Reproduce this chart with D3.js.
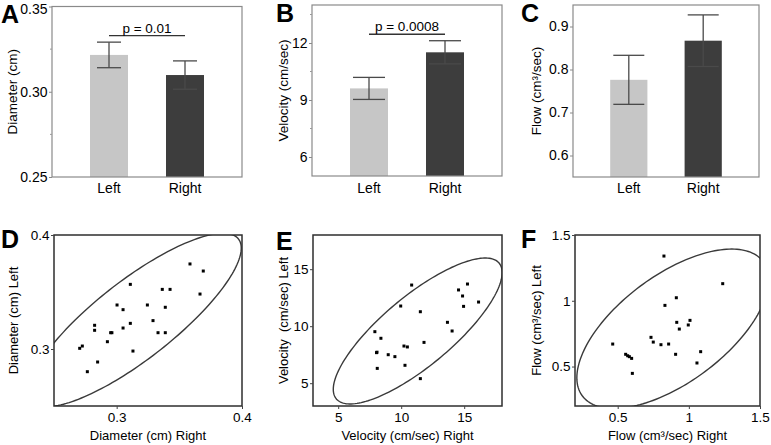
<!DOCTYPE html>
<html>
<head>
<meta charset="utf-8">
<script src="https://cdn.jsdelivr.net/npm/d3@7"></script>
<style>
  body { margin: 0; background: #fff; }
  svg text { font-family: "Liberation Sans", Arial, sans-serif; fill: #000; }
</style>
</head>
<body>
<svg id="chart" width="771" height="445"></svg>
<script>
//data
const groups = ["Left", "Right"];

const diameterMean = [0.3216, 0.3098];
const diameterErr = [0.0075, 0.0083];
const velocityMean = [9.61, 11.51];
const velocityErr = [0.58, 0.61];
const flowMean = [0.776, 0.867];
const flowErr = [0.057, 0.06];

//scatter pairs are [right, left]
const diameterPairs = [
  [0.2705, 0.3006], [0.2726, 0.3026], [0.2766, 0.2801], [0.2824, 0.3208],
  [0.2824, 0.3164], [0.2848, 0.2886], [0.2926, 0.3064], [0.2952, 0.3143],
  [0.2962, 0.3143], [0.3003, 0.3386], [0.3051, 0.3345], [0.3051, 0.3184],
  [0.3109, 0.3567], [0.3109, 0.3225], [0.313, 0.2982], [0.3245, 0.3386],
  [0.329, 0.3249], [0.333, 0.3143], [0.3364, 0.3523], [0.3388, 0.3366],
  [0.3388, 0.3143], [0.3426, 0.3523], [0.3585, 0.3746], [0.3691, 0.3684],
  [0.3665, 0.3482],
];
const velocityPairs = [
  [7.91, 9.52], [8.39, 8.94], [8.04, 7.68], [8.08, 7.72], [8.1, 6.3],
  [8.97, 7.5], [9.5, 7.33], [9.96, 11.77], [10.22, 8.26], [10.49, 8.18],
  [10.3, 6.57], [10.83, 13.61], [11.52, 11.27], [11.81, 8.58], [11.52, 5.4],
  [13.67, 10.34], [14.04, 9.58], [14.55, 13.18], [14.87, 12.65], [14.95, 11.74],
  [15.26, 13.7], [16.14, 12.12],
];
const flowPairs = [
  [0.825, 1.34], [1.238, 1.13], [0.912, 1.023], [0.832, 0.965], [0.915, 0.836],
  [1.008, 0.851], [0.996, 0.816], [0.933, 0.785], [0.465, 0.671], [0.734, 0.722],
  [0.75, 0.686], [0.804, 0.666], [0.858, 0.671], [0.907, 0.593], [1.083, 0.613],
  [1.057, 0.527], [0.556, 0.593], [0.57, 0.582], [0.582, 0.575], [0.598, 0.562],
  [0.603, 0.448],
];

//ellipses: centre, spread on each axis, correlation
const diameterEllipse = { cx: 0.3144, cy: 0.3254, sx: 0.085, sy: 0.0761, r: 0.829 };
const velocityEllipse = { cx: 11.31, cy: 9.58, sx: 6.7, sy: 6.4, r: 0.8 };
const flowEllipse = { cx: 0.887, cy: 0.787, sx: 0.674, sy: 0.606, r: 0.614 };

//layout
const barColors = ["#c6c6c6", "#3d3d3d"];

const barPanels = [
  { letter: "A", lx: 1, ly: 23, x: 52, y: 6.5, w: 190, h: 170.5, domain: [0.25, 0.35],
    ticks: [0.25, 0.3, 0.35], minor: [0.275, 0.325], fmt: ".2f", cap: 24,
    mean: diameterMean, err: diameterErr, p: "p = 0.01", title: "Diameter (cm)", tx: 12 },
  { letter: "B", lx: 276, ly: 22, x: 312, y: 5, w: 190, h: 171, domain: [5, 14],
    ticks: [6, 9, 12], minor: [7.5, 10.5, 13.5], fmt: "d", cap: 32,
    mean: velocityMean, err: velocityErr, p: "p = 0.0008", title: "Velocity (cm/sec)", tx: 283 },
  { letter: "C", lx: 521, ly: 22, x: 573, y: 5, w: 186, h: 172, domain: [0.55, 0.95],
    ticks: [0.6, 0.7, 0.8, 0.9], minor: [], fmt: ".1f", cap: 31,
    mean: flowMean, err: flowErr, p: null, title: "Flow (cm³/sec)", tx: 536 },
];

const scatterPanels = [
  { letter: "D", lx: 1, ly: 248, x: 54, y: 235, w: 188, h: 171,
    xDomain: [0.25, 0.4], yDomain: [0.25, 0.4], xTicks: [0.3, 0.4], yTicks: [0.3, 0.4],
    pairs: diameterPairs, ellipse: diameterEllipse,
    xTitle: "Diameter (cm) Right", yTitle: "Diameter (cm) Left", tx: 13 },
  { letter: "E", lx: 276, ly: 250, x: 313, y: 235, w: 189, h: 171,
    xDomain: [3, 18], yDomain: [3, 18], xTicks: [5, 10, 15], yTicks: [5, 10, 15],
    pairs: velocityPairs, ellipse: velocityEllipse,
    xTitle: "Velocity (cm/sec) Right", yTitle: "Velocity  (cm/sec) Left", tx: 283 },
  { letter: "F", lx: 521, ly: 248, x: 575, y: 235, w: 185, h: 171,
    xDomain: [0.2, 1.5], yDomain: [0.2, 1.5], xTicks: [0.5, 1, 1.5], yTicks: [0.5, 1, 1.5],
    pairs: flowPairs, ellipse: flowEllipse,
    xTitle: "Flow (cm³/sec) Right", yTitle: "Flow (cm³/sec) Left", tx: 536 },
];

const svg = d3.select("#chart");
const shortNum = d3.format("~g");

function styleAxis(g, size) {
  g.select(".domain").remove();
  g.selectAll(".tick line").attr("stroke", "#444");
  g.selectAll(".tick text").attr("font-size", size).attr("fill", "#000");
}

function barPanel(p) {
  const g = svg.append("g");
  const x = d3.scaleBand().domain(groups).range([p.x, p.x + p.w]).padding(0.5);
  const y = d3.scaleLinear().domain(p.domain).range([p.y + p.h, p.y]);

  g.selectAll(".bar")
    .data(groups)
    .join("rect")
    .attr("x", (d) => x(d))
    .attr("width", x.bandwidth())
    .attr("y", (d, i) => y(p.mean[i]))
    .attr("height", (d, i) => y(p.domain[0]) - y(p.mean[i]))
    .attr("fill", (d, i) => barColors[i]);

  //error bars
  const eb = g.selectAll(".err").data(groups).join("g").attr("stroke", "#4a4a4a").attr("stroke-width", 1.3);
  eb.append("line")
    .attr("x1", (d) => x(d) + x.bandwidth() / 2)
    .attr("x2", (d) => x(d) + x.bandwidth() / 2)
    .attr("y1", (d, i) => y(p.mean[i] - p.err[i]))
    .attr("y2", (d, i) => y(p.mean[i] + p.err[i]));
  [-1, 1].forEach((s) => {
    eb.append("line")
      .attr("x1", (d) => x(d) + x.bandwidth() / 2 - p.cap / 2)
      .attr("x2", (d) => x(d) + x.bandwidth() / 2 + p.cap / 2)
      .attr("y1", (d, i) => y(p.mean[i] + s * p.err[i]))
      .attr("y2", (d, i) => y(p.mean[i] + s * p.err[i]));
  });

  //frame
  g.append("rect")
    .attr("x", p.x).attr("y", p.y).attr("width", p.w).attr("height", p.h)
    .attr("fill", "none").attr("stroke", "#8a8a8a").attr("stroke-width", 1.2);

  const ax = g.append("g")
    .attr("transform", `translate(${p.x},0)`)
    .call(d3.axisLeft(y).tickValues(p.ticks).tickFormat(d3.format(p.fmt)).tickSize(3).tickPadding(1.5));
  styleAxis(ax, 14);
  ax.selectAll(".tick line").attr("stroke", "#8a8a8a");
  //keep a label sitting on the top edge inside the picture
  ax.selectAll(".tick text").filter((d) => y(d) - p.y < 3).attr("dy", "0.5em");

  g.selectAll(".minor")
    .data(p.minor)
    .join("line")
    .attr("x1", p.x - 2).attr("x2", p.x)
    .attr("y1", (d) => y(d)).attr("y2", (d) => y(d))
    .attr("stroke", "#9a9a9a");

  //category labels
  g.selectAll(".cat")
    .data(groups)
    .join("text")
    .attr("x", (d) => x(d) + x.bandwidth() / 2)
    .attr("y", 193)
    .attr("text-anchor", "middle")
    .attr("font-size", 14)
    .text((d) => d);

  //significance bracket
  if (p.p) {
    const top = d3.min(groups, (d, i) => y(p.mean[i] + p.err[i])) - 6.5;
    const x1 = x(groups[0]) + x.bandwidth() / 2;
    const x2 = x(groups[1]) + x.bandwidth() / 2;
    g.append("line")
      .attr("x1", x1).attr("x2", x2).attr("y1", top).attr("y2", top)
      .attr("stroke", "#333").attr("stroke-width", 1.4);
    g.append("text")
      .attr("x", (x1 + x2) / 2).attr("y", top - 3)
      .attr("text-anchor", "middle").attr("font-size", 13.5)
      .text(p.p);
  }

  g.append("text")
    .attr("transform", `translate(${p.tx},${p.y + p.h / 2}) rotate(-90)`)
    .attr("text-anchor", "middle").attr("dy", "0.35em")
    .attr("font-size", 13.5)
    .text(p.title);

  g.append("text")
    .attr("x", p.lx).attr("y", p.ly)
    .attr("font-size", 25).attr("font-weight", "bold")
    .text(p.letter);
}

function scatterPanel(p, idx) {
  const g = svg.append("g");
  const x = d3.scaleLinear().domain(p.xDomain).range([p.x, p.x + p.w]);
  const y = d3.scaleLinear().domain(p.yDomain).range([p.y + p.h, p.y]);

  const clipId = "clip" + idx;
  g.append("clipPath").attr("id", clipId)
    .append("rect").attr("x", p.x).attr("y", p.y).attr("width", p.w).attr("height", p.h);

  //ellipse from centre, spreads and correlation
  const e = p.ellipse;
  const k = Math.sqrt(1 - e.r * e.r);
  const pts = d3.range(0, 2 * Math.PI + 0.01, Math.PI / 90).map((t) => [
    e.cx + e.sx * Math.cos(t),
    e.cy + e.sy * (e.r * Math.cos(t) + k * Math.sin(t)),
  ]);
  const line = d3.line().x((d) => x(d[0])).y((d) => y(d[1])).curve(d3.curveLinearClosed);
  g.append("path")
    .attr("d", line(pts))
    .attr("clip-path", `url(#${clipId})`)
    .attr("fill", "none").attr("stroke", "#3a3a3a").attr("stroke-width", 1.4);

  g.selectAll(".pt")
    .data(p.pairs)
    .join("rect")
    .attr("x", (d) => x(d[0]) - 1.5)
    .attr("y", (d) => y(d[1]) - 1.5)
    .attr("width", 3).attr("height", 3)
    .attr("fill", "#000");

  g.append("rect")
    .attr("x", p.x).attr("y", p.y).attr("width", p.w).attr("height", p.h)
    .attr("fill", "none").attr("stroke", "#2e2e2e").attr("stroke-width", 1.5);

  const xa = g.append("g")
    .attr("transform", `translate(0,${p.y + p.h})`)
    .call(d3.axisBottom(x).tickValues(p.xTicks).tickFormat(shortNum).tickSize(3).tickPadding(3));
  styleAxis(xa, 13.5);
  const ya = g.append("g")
    .attr("transform", `translate(${p.x},0)`)
    .call(d3.axisLeft(y).tickValues(p.yTicks).tickFormat(shortNum).tickSize(3).tickPadding(1.5));
  styleAxis(ya, 13.5);

  g.append("text")
    .attr("x", p.x + p.w / 2).attr("y", 440)
    .attr("text-anchor", "middle").attr("font-size", 13)
    .text(p.xTitle);

  g.append("text")
    .attr("transform", `translate(${p.tx},${p.y + p.h / 2}) rotate(-90)`)
    .attr("text-anchor", "middle").attr("dy", "0.35em")
    .attr("font-size", 13)
    .attr("xml:space", "preserve")
    .text(p.yTitle);

  g.append("text")
    .attr("x", p.lx).attr("y", p.ly)
    .attr("font-size", 25).attr("font-weight", "bold")
    .text(p.letter);
}

barPanels.forEach((p) => barPanel(p));
scatterPanels.forEach((p, i) => scatterPanel(p, i));
</script>
</body>
</html>
